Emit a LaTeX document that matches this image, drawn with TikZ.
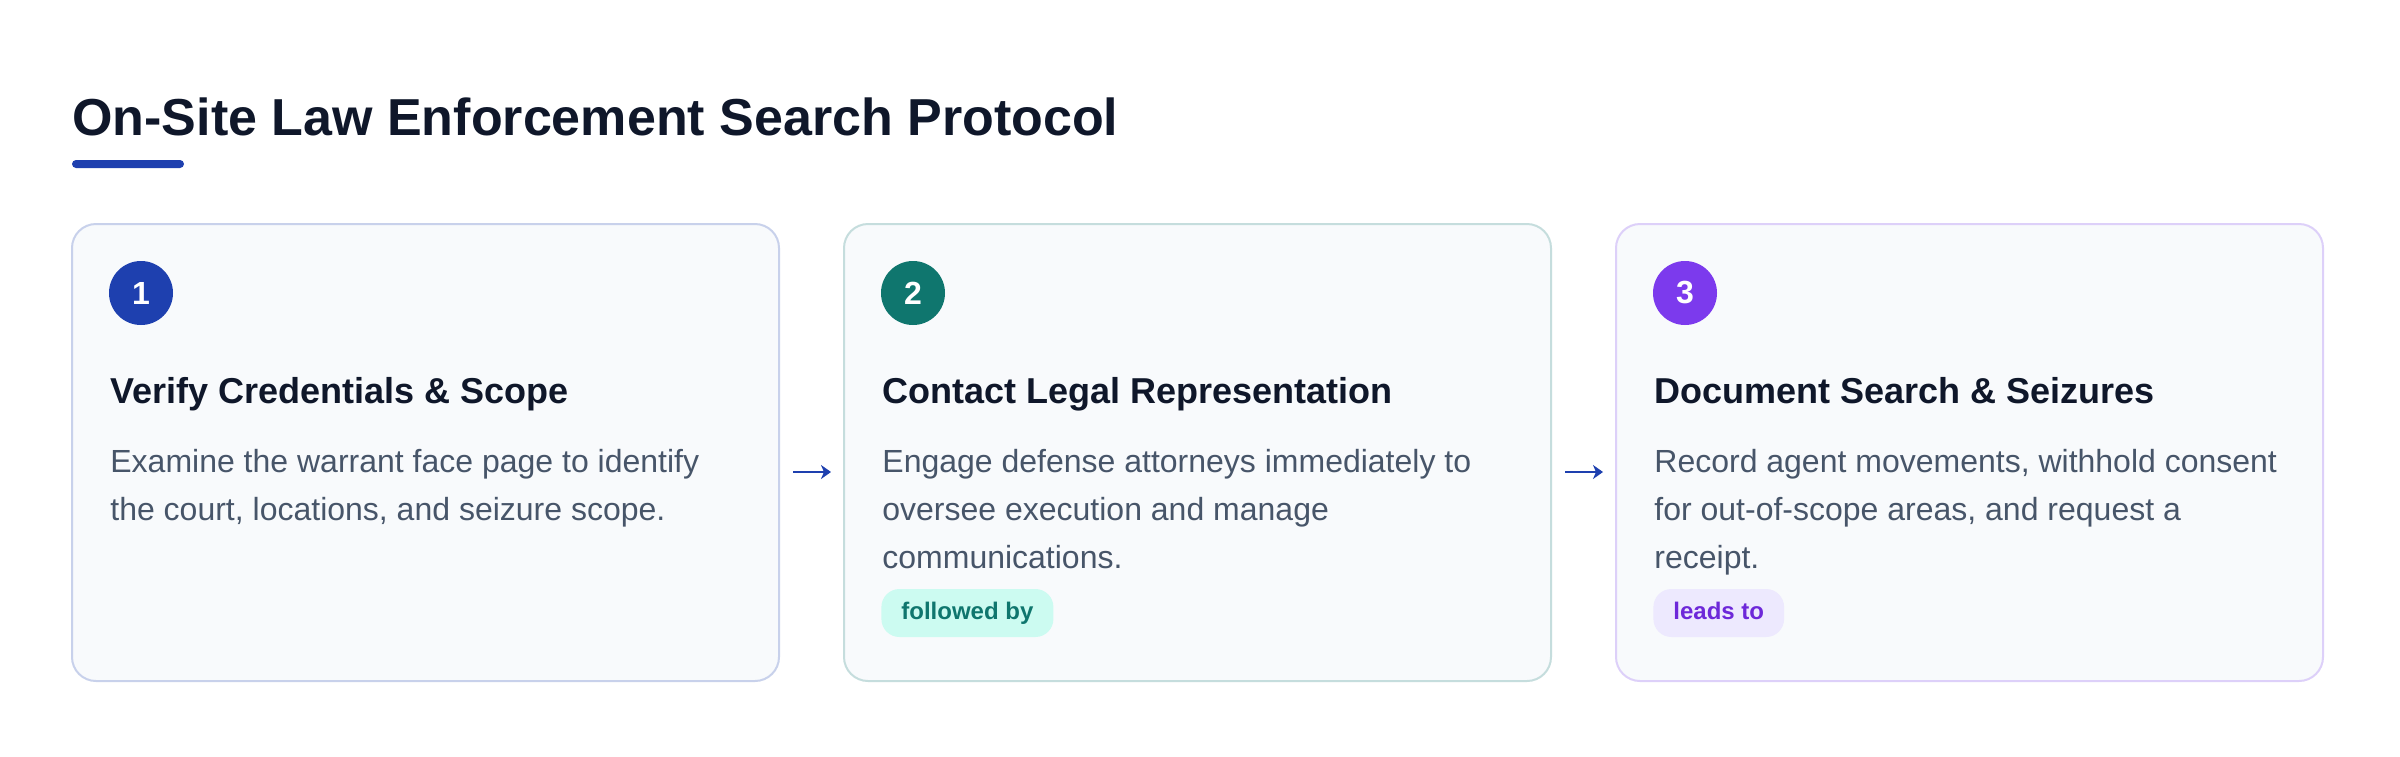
\documentclass[tikz,border=0pt]{standalone}
\usepackage{fontspec}
\setmainfont{Liberation Sans}
\usepackage{tikz}
\usetikzlibrary{arrows.meta}

\definecolor{ink}{HTML}{0F172A}
\definecolor{bodygray}{HTML}{475569}
\definecolor{cardbg}{HTML}{F8FAFC}
\definecolor{stepA}{HTML}{1E40AF}
\definecolor{stepB}{HTML}{0F766E}
\definecolor{stepC}{HTML}{7C3AED}
\definecolor{tealsoft}{HTML}{CCFBF1}
\definecolor{violetsoft}{HTML}{EDE9FE}
\definecolor{violettext}{HTML}{6D28D9}

\tikzset{
  card/.style={rectangle, rounded corners=12pt, fill=cardbg, line width=1pt,
    minimum width=353.5pt, minimum height=228.5pt, inner sep=0pt},
  numdot/.style={circle, minimum size=32pt, inner sep=0pt, text=white,
    font=\bfseries\fontsize{16}{18}\selectfont},
  heading/.style={anchor=base west, inner sep=0pt, text=ink,
    font=\bfseries\fontsize{18}{22}\selectfont},
  bodytext/.style={anchor=base west, inner sep=0pt, align=left, text=bodygray,
    font=\fontsize{16}{24}\selectfont},
  tag/.style={rectangle, rounded corners=9pt, anchor=west, inner xsep=10pt,
    inner ysep=0pt, minimum height=24pt, text height=8.6pt, text depth=2.5pt,
    font=\bfseries\fontsize{12}{14}\selectfont},
  flow/.style={draw=stepA, line width=1pt, -{Stealth[length=5pt,width=7pt,inset=1.5pt]},
    shorten <=6.5pt, shorten >=6pt}
}

\begin{document}
\begin{tikzpicture}[x=0.5pt, y=-0.5pt]
  \fill[white] (0,0) rectangle (2400,756);
  \useasboundingbox (0,0) rectangle (2400,756);

  % Title
  \node[anchor=base west, inner sep=0pt, text=ink, font=\bfseries\fontsize{26}{30}\selectfont]
    (title) at (72,135) {On-Site Law Enforcement Search Protocol};
  \fill[stepA, rounded corners=2pt] (72,160) rectangle (184,168);

  % Cards
  \foreach \i/\col/\head in {1/stepA/{Verify Credentials \& Scope},
      2/stepB/{Contact Legal Representation},
      3/stepC/{Document Search \& Seizures}} {
    \node[card, draw=\col!22!cardbg] (card\i) at ({425.5 + 772*(\i-1)}, 452.5) {};
    \node[numdot, fill=\col] (num\i) at ([xshift=35pt, yshift=-35pt]card\i.north west) {\i};
    \node[heading] (head\i) at ([xshift=19.5pt, yshift=-90pt]card\i.north west) {\head};
  }

  % Body text (base = last line)
  \node[bodytext] (text1) at ([xshift=19.5pt, yshift=-148.5pt]card1.north west)
    {Examine the warrant face page to identify\\the court, locations, and seizure scope.};
  \node[bodytext] (text2) at ([xshift=19.5pt, yshift=-172.5pt]card2.north west)
    {Engage defense attorneys immediately to\\oversee execution and manage\\communications.};
  \node[bodytext] (text3) at ([xshift=19.5pt, yshift=-172.5pt]card3.north west)
    {Record agent movements, withhold consent\\for out-of-scope areas, and request a\\receipt.};

  % Tags
  \node[tag, fill=tealsoft, text=stepB] (tag2) at ([xshift=19pt, yshift=-195pt]card2.north west) {followed by};
  \node[tag, fill=violetsoft, text=violettext] (tag3) at ([xshift=19pt, yshift=-195pt]card3.north west) {leads to};

  % Arrows
  \draw[flow] ([yshift=-9.75pt]card1.east) -- ([yshift=-9.75pt]card2.west);
  \draw[flow] ([yshift=-9.75pt]card2.east) -- ([yshift=-9.75pt]card3.west);
\end{tikzpicture}
\end{document}
